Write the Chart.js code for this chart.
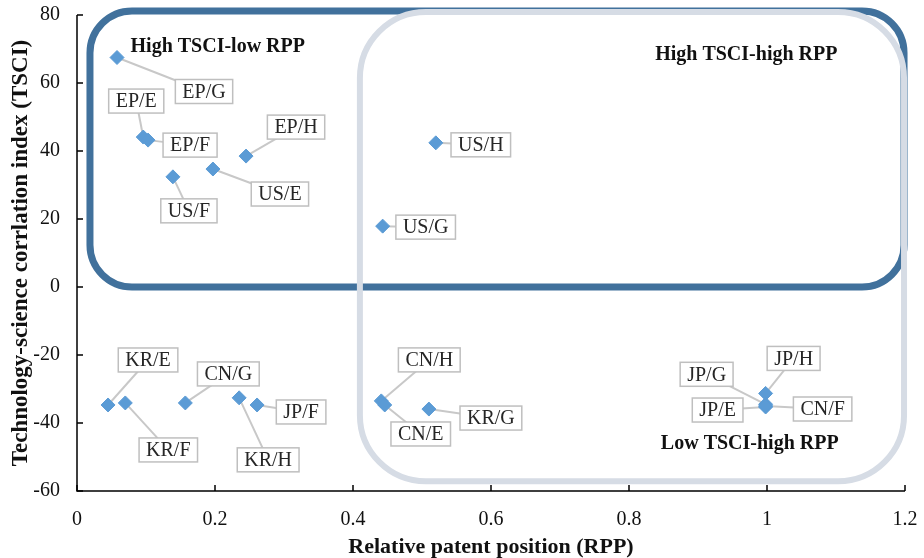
<!DOCTYPE html>
<html lang="en">
<head>
<meta charset="UTF-8">
<title>TSCI vs RPP</title>
<script src="https://cdn.jsdelivr.net/npm/chart.js"></script>
<style>
  html, body { margin: 0; padding: 0; background: #fff; }
  canvas { display: block; }
</style>
</head>
<body>
<canvas id="chart" width="924" height="558"></canvas>
<script>
// data
const categories = ['EP/G', 'EP/E', 'EP/F', 'EP/H', 'US/E', 'US/F', 'US/H', 'US/G',
  'KR/E', 'KR/F', 'CN/G', 'KR/H', 'JP/F', 'CN/H', 'CN/E', 'KR/G', 'JP/H', 'JP/G', 'JP/E', 'CN/F'];
const rppValues = [0.058, 0.096, 0.103, 0.245, 0.197, 0.139, 0.520, 0.443,
  0.045, 0.070, 0.157, 0.235, 0.261, 0.441, 0.446, 0.510, 0.998, 0.998, 0.998, 0.998];
const tsciValues = [67.5, 44.1, 43.2, 38.5, 34.7, 32.4, 42.4, 17.9,
  -34.7, -34.1, -34.1, -32.6, -34.7, -33.5, -34.7, -35.9, -31.3, -34.5, -35.3, -35.0];
const xTickLabels = ['0', '0.2', '0.4', '0.6', '0.8', '1', '1.2'];
const yTickLabels = ['-60', '-40', '-20', '0', '20', '40', '60', '80'];
const regionNames = ['High TSCI-low RPP', 'High TSCI-high RPP', 'Low TSCI-high RPP'];

// where each callout box sits, in px from its point
const labelOffsets = [[87, 34], [-7, -36], [42, 5], [50, -29], [67, 25], [16, 34], [45, 2], [43, 1],
  [40, -45], [43, 47], [43, -29], [29, 62], [44, 7], [48, -41], [36, 29], [62, 9],
  [28, -35], [-59, -30], [-48, 3], [57, 3]];
// region title anchors (data units) and outlined areas
const regionAnchors = [[0.204, 70.6], [0.970, 68.2], [0.975, -46.2]];
const darkBox = { x0: 0.0188, x1: 1.1986, y0: 81.2, y1: 0, r: 42 };
const lightBox = { x0: 0.410, x1: 1.1986, y0: 80.9, y1: -57.1, r: 66 };

const SERIF = '"Liberation Serif", "Times New Roman", serif';

function roundRect(ctx, x0, y0, x1, y1, r) {
  ctx.beginPath();
  ctx.moveTo(x0 + r, y0);
  ctx.lineTo(x1 - r, y0);
  ctx.arcTo(x1, y0, x1, y0 + r, r);
  ctx.lineTo(x1, y1 - r);
  ctx.arcTo(x1, y1, x1 - r, y1, r);
  ctx.lineTo(x0 + r, y1);
  ctx.arcTo(x0, y1, x0, y1 - r, r);
  ctx.lineTo(x0, y0 + r);
  ctx.arcTo(x0, y0, x0 + r, y0, r);
  ctx.closePath();
}

function boxPx(chart, b) {
  const { x, y } = chart.scales;
  return [x.getPixelForValue(b.x0), y.getPixelForValue(b.y0), x.getPixelForValue(b.x1), y.getPixelForValue(b.y1)];
}

const overlay = {
  id: 'overlay',
  beforeDatasetsDraw(chart) {
    const ctx = chart.ctx;
    ctx.save();
    // quadrant outlines
    ctx.lineWidth = 7;
    ctx.strokeStyle = '#41719c';
    roundRect(ctx, ...boxPx(chart, darkBox), darkBox.r);
    ctx.stroke();
    ctx.lineWidth = 6;
    ctx.strokeStyle = '#d6dce5';
    roundRect(ctx, ...boxPx(chart, lightBox), lightBox.r);
    ctx.stroke();

    // leader lines
    const pts = chart.getDatasetMeta(0).data;
    ctx.strokeStyle = '#c8c8c8';
    ctx.lineWidth = 2;
    pts.forEach((p, i) => {
      ctx.beginPath();
      ctx.moveTo(p.x, p.y);
      ctx.lineTo(p.x + labelOffsets[i][0], p.y + labelOffsets[i][1]);
      ctx.stroke();
    });
    ctx.restore();
  },
  afterDatasetsDraw(chart) {
    const ctx = chart.ctx;
    const { x, y } = chart.scales;
    const area = chart.chartArea;
    const pts = chart.getDatasetMeta(0).data;
    ctx.save();

    // callout boxes
    ctx.font = '20px ' + SERIF;
    ctx.textAlign = 'center';
    ctx.textBaseline = 'middle';
    pts.forEach((p, i) => {
      const cx = p.x + labelOffsets[i][0];
      const cy = p.y + labelOffsets[i][1];
      const w = ctx.measureText(categories[i]).width + 14;
      const h = 24;
      ctx.fillStyle = '#fff';
      ctx.fillRect(cx - w / 2, cy - h / 2, w, h);
      ctx.strokeStyle = '#bfbfbf';
      ctx.lineWidth = 1.5;
      ctx.strokeRect(cx - w / 2, cy - h / 2, w, h);
      ctx.fillStyle = '#262626';
      ctx.fillText(categories[i], cx, cy + 1);
    });

    // region names
    ctx.font = 'bold 20px ' + SERIF;
    ctx.fillStyle = '#111';
    regionNames.forEach((t, i) => {
      ctx.fillText(t, x.getPixelForValue(regionAnchors[i][0]), y.getPixelForValue(regionAnchors[i][1]));
    });

    // axes with inward ticks
    ctx.strokeStyle = '#000';
    ctx.lineWidth = 1.5;
    ctx.beginPath();
    ctx.moveTo(area.left, area.top);
    ctx.lineTo(area.left, area.bottom);
    ctx.lineTo(area.right, area.bottom);
    ctx.stroke();
    ctx.beginPath();
    x.ticks.forEach(t => {
      const px = x.getPixelForValue(t.value);
      ctx.moveTo(px, area.bottom);
      ctx.lineTo(px, area.bottom - 6);
    });
    y.ticks.forEach(t => {
      const py = y.getPixelForValue(t.value);
      ctx.moveTo(area.left, py);
      ctx.lineTo(area.left + 6, py);
    });
    ctx.stroke();
    ctx.restore();
  }
};

new Chart(document.getElementById('chart'), {
  type: 'scatter',
  data: {
    datasets: [{
      data: rppValues.map((v, i) => ({ x: v, y: tsciValues[i] })),
      pointStyle: 'rectRot',
      pointRadius: 7,
      backgroundColor: '#5b9bd5',
      borderColor: '#5b9bd5',
      borderWidth: 1
    }]
  },
  options: {
    responsive: false,
    animation: false,
    devicePixelRatio: 1,
    layout: { padding: { top: 15, right: 19, left: 0, bottom: 0 } },
    plugins: { legend: { display: false }, tooltip: { enabled: false } },
    scales: {
      x: {
        type: 'linear', min: 0, max: 1.2,
        grid: { display: false, drawTicks: false },
        border: { display: false },
        ticks: {
          stepSize: 0.2, padding: 17, color: '#111',
          font: { family: SERIF, size: 20 },
          callback: (v, i) => xTickLabels[i]
        },
        title: {
          display: true, text: 'Relative patent position (RPP)', color: '#111',
          font: { family: SERIF, size: 22, weight: 'bold', lineHeight: 1 }, padding: { top: 0, bottom: 0 }
        },
        afterFit: s => { s.height = 67; s.paddingLeft = 0; s.paddingRight = 0; }
      },
      y: {
        type: 'linear', min: -60, max: 80,
        grid: { display: false, drawTicks: false },
        border: { display: false },
        ticks: {
          stepSize: 20, padding: 17, color: '#111',
          font: { family: SERIF, size: 20 },
          callback: (v, i) => yTickLabels[i]
        },
        title: {
          display: true, text: 'Technology-science corrlation index (TSCI)', color: '#111',
          font: { family: SERIF, size: 23, weight: 'bold', lineHeight: 1 }, padding: { top: 10, bottom: 0 }
        },
        afterFit: s => { s.width = 77; s.paddingTop = 0; s.paddingBottom = 0; }
      }
    }
  },
  plugins: [overlay]
});
</script>
</body>
</html>
